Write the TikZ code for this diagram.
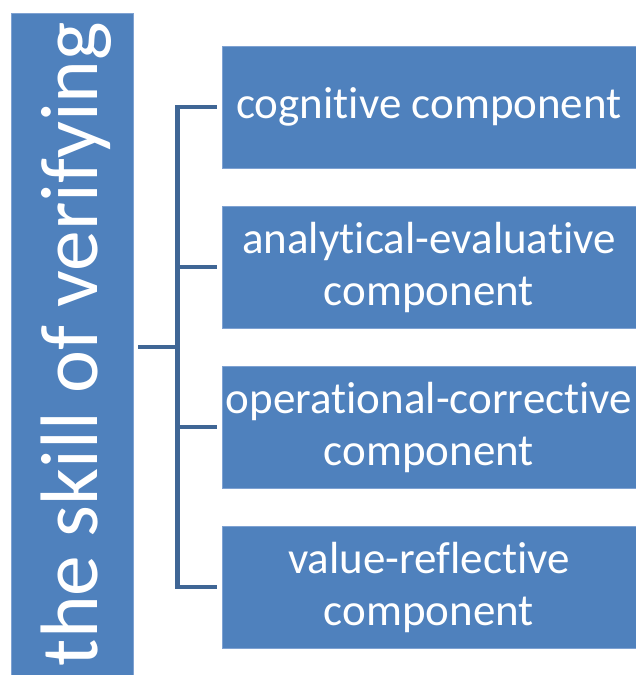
\documentclass[tikz,border=0pt]{standalone}
\usepackage{fontspec}
\setmainfont{Carlito}[Ligatures=NoCommon]
\definecolor{boxblue}{HTML}{4F81BD}
\definecolor{boxedge}{HTML}{7FA2D2}
\definecolor{linkblue}{HTML}{3F6695}
\begin{document}
\begin{tikzpicture}[x=1pt,y=-1pt,
  compbox/.style={draw=boxedge, line width=0.8pt, fill=boxblue, text=white,
    minimum width=414pt, minimum height=122pt, inner sep=0pt, align=center,
    font=\fontsize{45}{52}\selectfont},
  mainbox/.style={draw=boxedge, line width=0.8pt, fill=boxblue,
    minimum width=122pt, minimum height=662pt, inner sep=0pt},
  conn/.style={draw=linkblue, line width=4.5pt}]
\useasboundingbox (0,0) rectangle (636,675);
\fill[white] (0,0) rectangle (636,675);
\node[mainbox] (main) at (72,344) {};
\node[text=white, rotate=90, anchor=base, inner sep=0pt,
  font=\fontsize{81.5}{90}\selectfont] (maintext) at (97,344) {the skill of verifying};
\node[compbox] (b1) at (429,107) {cognitive component};
\node[compbox] (b2) at (429,267) {analytical-evaluative\\component};
\node[compbox] (b3) at (429,427) {operational-corrective\\component};
\node[compbox] (b4) at (429,587) {value-reflective\\component};
\coordinate (spine) at (177.5,347);
\draw[conn] ([xshift=5pt]main.east |- spine) -- (spine);
\draw[conn] ([xshift=-5pt]b1.west) -| (spine |- b4.west) -- ([xshift=-5pt]b4.west);
\draw[conn] (spine |- b2.west) -- ([xshift=-5pt]b2.west);
\draw[conn] (spine |- b3.west) -- ([xshift=-5pt]b3.west);
\end{tikzpicture}
\end{document}
